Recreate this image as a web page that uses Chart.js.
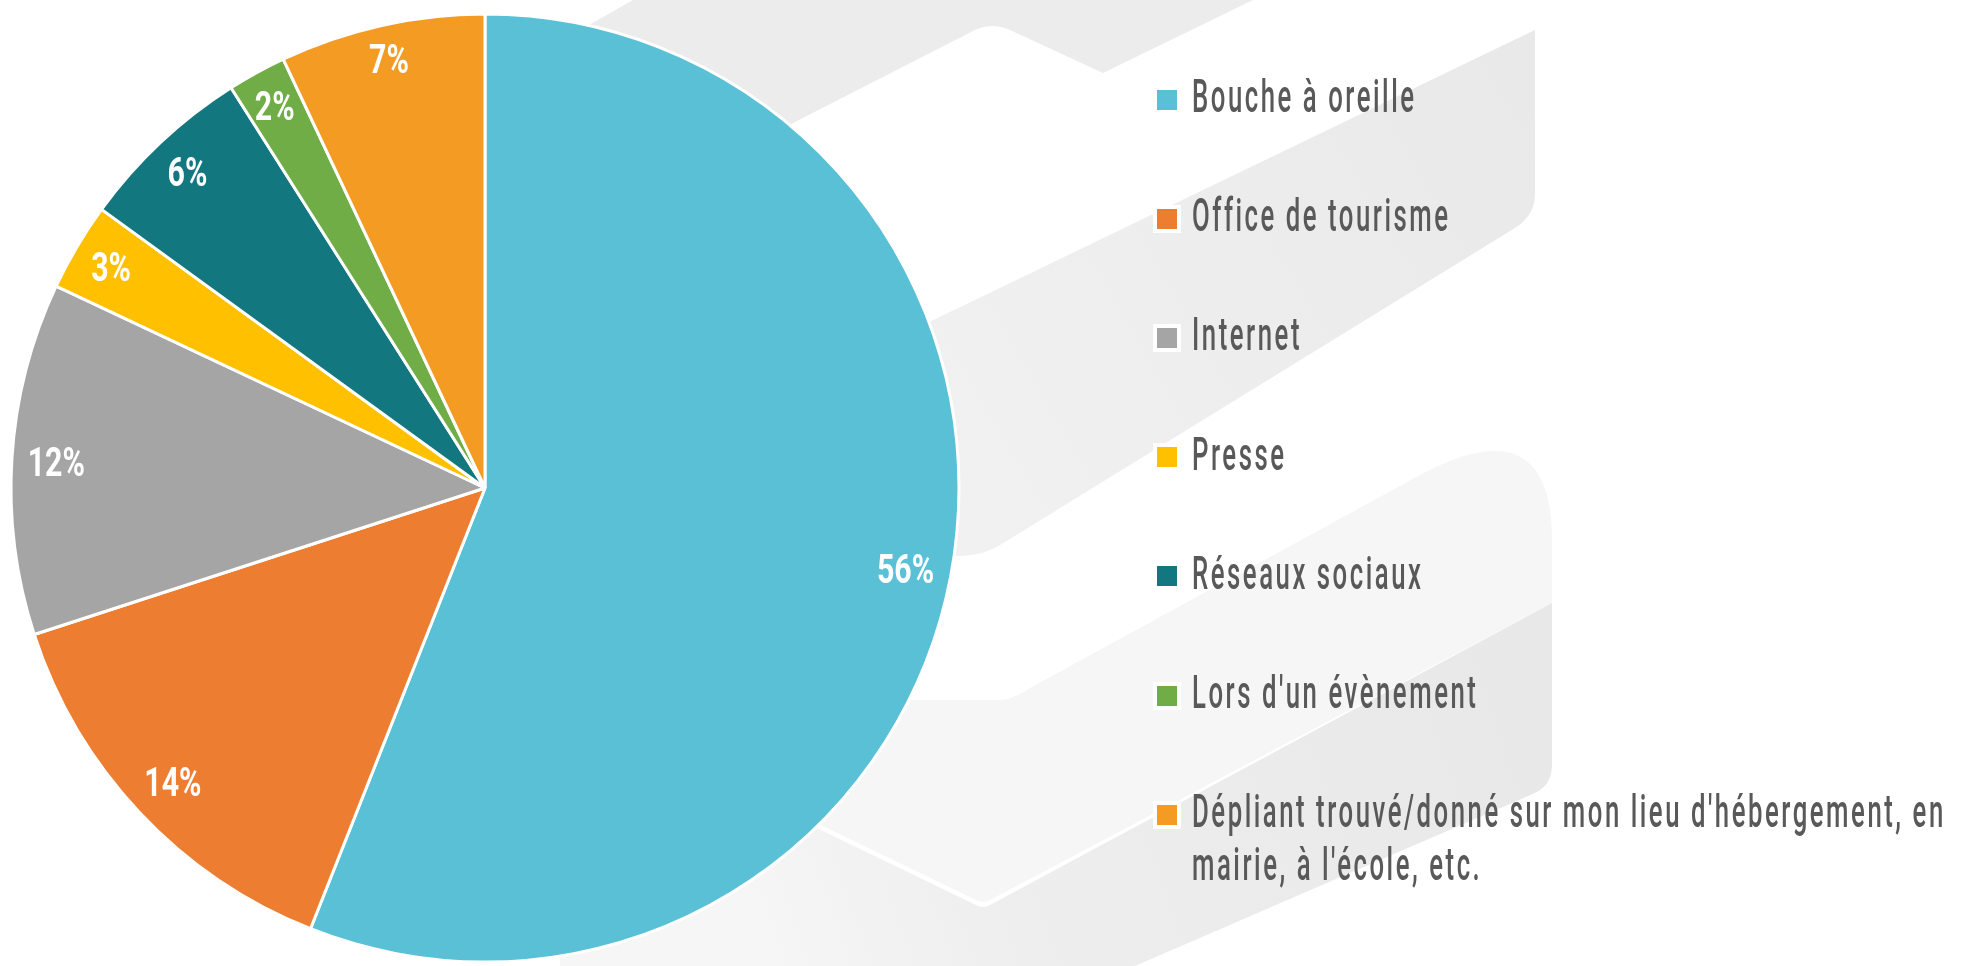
<!DOCTYPE html>
<html lang="fr">
<head>
<meta charset="utf-8">
<title>Comment avez-vous connu ?</title>
<script src="https://cdn.jsdelivr.net/npm/chart.js@4.4.1/dist/chart.umd.min.js"></script>
<style>
  html, body { margin: 0; padding: 0; background: #fff; }
  #wrap { position: relative; width: 1966px; height: 966px; overflow: hidden; }
  #bg, #pie { position: absolute; left: 0; top: 0; }
  #legend { position: absolute; left: 1153px; top: 40px; margin: 0; padding: 0; list-style: none; }
  #legend li { position: relative; height: 119.2px; }
  #legend .box { position: absolute; left: 0; top: 45.6px; width: 20px; height: 20px; border: 4px solid #fff; }
  #legend .txt {
    position: absolute; left: 39px; top: 30px;
    font-family: Roboto, "Liberation Sans", sans-serif; font-weight: 500;
    font-size: 46px; line-height: 53px; letter-spacing: 4.5px;
    color: #595959; white-space: nowrap;
    transform: scaleX(0.56); transform-origin: 0 0;
  }
</style>
</head>
<body>
<div id="wrap">
  <!-- light grey backdrop shapes -->
  <svg id="bg" width="1966" height="966" viewBox="0 0 1966 966">
    <defs>
      <linearGradient id="bandTop" x1="1535" y1="100" x2="930" y2="450" gradientUnits="userSpaceOnUse">
        <stop offset="0" stop-color="#e9e9e9"/>
        <stop offset="1" stop-color="#f1f1f1"/>
      </linearGradient>
      <linearGradient id="bandLow" x1="1552" y1="680" x2="760" y2="960" gradientUnits="userSpaceOnUse">
        <stop offset="0" stop-color="#e8e8e8"/>
        <stop offset="0.7" stop-color="#eeeeee"/>
        <stop offset="1" stop-color="#f6f6f6"/>
      </linearGradient>
    </defs>
    <path fill="#ececec" d="M633,0 L1253,0 L1103,73 L1010,30 Q993,22 975,30 L793,123 L700,170 L580,30 Z"/>
    <path fill="url(#bandTop)" d="M925,324 L1535,30 L1535,195 Q1535,215 1515,228 L1000,545 Q985,555 960,556 L925,556 Z"/>
    <path fill="#f6f6f6" d="M1552,540 L1552,603 L990,900 Q983,904 976,900 L800,815 L800,700 L1000,700 Q1012,700 1030,688 L1420,475 Q1552,405 1552,540 Z"/>
    <path fill="url(#bandLow)" d="M560,966 L560,704 L976,905 Q983,909 990,905 L1552,603 L1552,765 Q1552,785 1535,793 L1135,966 Z"/>
  </svg>
  <canvas id="pie" width="1966" height="966"></canvas>
  <ul id="legend"></ul>
</div>

<script>
const labels = [
  'Bouche à oreille',
  'Office de tourisme',
  'Internet',
  'Presse',
  'Réseaux sociaux',
  "Lors d'un évènement",
  ["Dépliant trouvé/donné sur mon lieu d'hébergement, en", "mairie, à l'école, etc."]
];
const values = [56, 14, 12, 3, 6, 2, 7];
const colors = ['#59c0d6', '#ed7d31', '#a5a5a5', '#ffc000', '#13777f', '#70ad47', '#f49b23'];

const SQUEEZE = 0.74;

// white percentage labels, pushed towards the outer edge of each slice
const pctLabels = {
  id: 'pctLabels',
  afterDatasetsDraw(chart) {
    const ctx = chart.ctx;
    const meta = chart.getDatasetMeta(0);
    ctx.save();
    ctx.fillStyle = '#fff';
    ctx.font = 'bold 41px Roboto, "Liberation Sans", sans-serif';
    ctx.textAlign = 'center';
    ctx.textBaseline = 'alphabetic';
    const cap = 41 * 0.711;
    meta.data.forEach((arc, i) => {
      const p = arc.getProps(['x', 'y', 'startAngle', 'endAngle', 'outerRadius'], true);
      const mid = (p.startAngle + p.endAngle) / 2;
      const text = values[i] + '%';
      const hw = ctx.measureText(text).width * SQUEEZE / 2;
      const hh = cap / 2;
      const dx = Math.cos(mid), dy = Math.sin(mid);
      const r = p.outerRadius - 15 - (hw * Math.abs(dx) + hh * Math.abs(dy));
      ctx.save();
      ctx.translate(p.x + dx * r, p.y + dy * r + cap / 2);
      ctx.scale(SQUEEZE, 1);
      ctx.fillText(text, 0, 0);
      ctx.restore();
    });
    ctx.restore();
  }
};

const chart = new Chart(document.getElementById('pie'), {
  type: 'pie',
  data: {
    labels: labels,
    datasets: [{
      data: values,
      backgroundColor: colors,
      borderColor: '#fff',
      borderWidth: 3,
      hoverOffset: 0
    }]
  },
  options: {
    responsive: false,
    animation: false,
    radius: 474,
    layout: { padding: { top: 10, right: 996, bottom: 0, left: 0 } },
    plugins: {
      legend: { display: false },
      tooltip: { enabled: false }
    }
  },
  plugins: [pctLabels]
});

// html legend built from the chart's own legend items
const ul = document.getElementById('legend');
chart.options.plugins.legend.labels.generateLabels(chart).forEach(item => {
  const li = document.createElement('li');
  const box = document.createElement('span');
  box.className = 'box';
  box.style.background = item.fillStyle;
  const txt = document.createElement('span');
  txt.className = 'txt';
  const lines = Array.isArray(item.text) ? item.text : [item.text];
  lines.forEach((line, k) => {
    if (k) txt.appendChild(document.createElement('br'));
    txt.appendChild(document.createTextNode(line));
  });
  li.appendChild(box);
  li.appendChild(txt);
  ul.appendChild(li);
});
</script>
</body>
</html>
